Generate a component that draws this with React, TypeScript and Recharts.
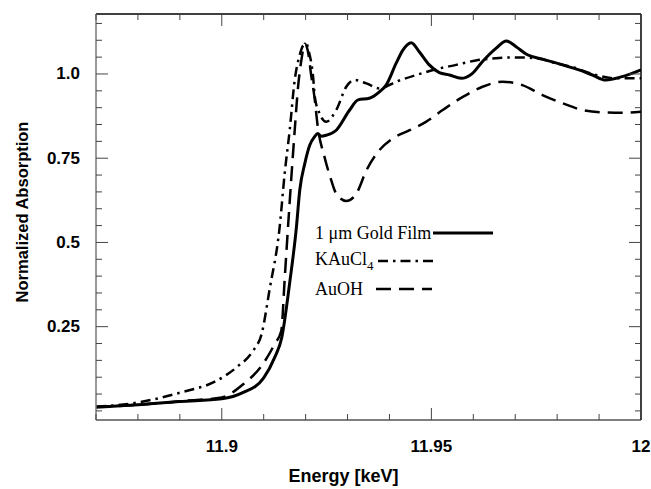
import React from 'react';
import { LineChart, Line, XAxis, YAxis } from 'recharts';

// energy (keV) / normalized absorption
const goldEnergy = [11.87, 11.88, 11.89, 11.9, 11.905, 11.91, 11.9126, 11.9143, 11.9162, 11.9178, 11.9186, 11.9198, 11.921, 11.9221, 11.9229, 11.9237, 11.9249, 11.9273, 11.9305, 11.9325, 11.9352, 11.9376, 11.9392, 11.9416, 11.9432, 11.9452, 11.9471, 11.9495, 11.9519, 11.9543, 11.9571, 11.9598, 11.9622, 11.9654, 11.9679, 11.9702, 11.9729, 11.9765, 11.9813, 11.9852, 11.9884, 11.9916, 11.9955, 12.0];
const goldAbs = [0.011, 0.018, 0.028, 0.036, 0.054, 0.098, 0.158, 0.217, 0.38, 0.545, 0.655, 0.734, 0.789, 0.813, 0.823, 0.815, 0.818, 0.833, 0.893, 0.923, 0.928, 0.947, 0.967, 1.032, 1.071, 1.093, 1.066, 1.027, 1.004, 0.997, 0.987, 1.002, 1.037, 1.076, 1.098, 1.081, 1.057, 1.044, 1.027, 1.012, 0.997, 0.982, 0.992, 1.012];

const kaucl4Energy = [11.87, 11.88, 11.89, 11.8987, 11.9035, 11.9075, 11.9095, 11.9114, 11.9138, 11.915, 11.9162, 11.9174, 11.9186, 11.9195, 11.9202, 11.9207, 11.9218, 11.9222, 11.9233, 11.9249, 11.9273, 11.9297, 11.9317, 11.9345, 11.9376, 11.9416, 11.9464, 11.9511, 11.9559, 11.9606, 11.9654, 11.9702, 11.9749, 11.9797, 11.9845, 11.9892, 11.994, 12.0];
const kaucl4Abs = [0.012, 0.025, 0.054, 0.089, 0.129, 0.179, 0.228, 0.36, 0.545, 0.704, 0.833, 0.982, 1.057, 1.086, 1.09, 1.07, 0.99, 0.932, 0.883, 0.858, 0.893, 0.962, 0.982, 0.972, 0.957, 0.977, 0.997, 1.014, 1.027, 1.04, 1.047, 1.049, 1.047, 1.032, 1.017, 0.997, 0.987, 0.987];

const auohEnergy = [11.87, 11.88, 11.89, 11.9, 11.9051, 11.9098, 11.9126, 11.9142, 11.915, 11.9158, 11.9166, 11.9174, 11.9182, 11.919, 11.9198, 11.9205, 11.9214, 11.9221, 11.9229, 11.9245, 11.9261, 11.9273, 11.9297, 11.9321, 11.9345, 11.9376, 11.9408, 11.9448, 11.9487, 11.9527, 11.9575, 11.9622, 11.967, 11.9717, 11.9765, 11.9813, 11.986, 11.9908, 11.9955, 12.0];
const auohAbs = [0.012, 0.018, 0.029, 0.04, 0.079, 0.139, 0.198, 0.238, 0.39, 0.545, 0.694, 0.833, 0.962, 1.042, 1.09, 1.07, 0.99, 0.932, 0.843, 0.754, 0.685, 0.645, 0.623, 0.645, 0.714, 0.774, 0.809, 0.833, 0.858, 0.893, 0.932, 0.962, 0.977, 0.967, 0.9375, 0.913, 0.893, 0.886, 0.885, 0.888];

const xTicks = [11.87, 11.88, 11.89, 11.9, 11.91, 11.92, 11.93, 11.94, 11.95, 11.96, 11.97, 11.98, 11.99, 12.0];
const xMajor = [11.9, 11.95, 12.0];
const xLabels = ['11.9', '11.95', '12'];
const yTicks = [0, 0.05, 0.1, 0.15, 0.2, 0.25, 0.3, 0.35, 0.4, 0.45, 0.5, 0.55, 0.6, 0.65, 0.7, 0.75, 0.8, 0.85, 0.9, 0.95, 1.0, 1.05, 1.1, 1.15];
const yMajor = [0.25, 0.5, 0.75, 1.0];
const yLabels = ['0.25', '0.5', '0.75', '1.0'];

const toPoints = (xs: number[], ys: number[]) => xs.map((x, i) => ({ x, y: ys[i] }));

const series = [
  { name: 'gold', data: toPoints(goldEnergy, goldAbs), width: 3, dash: undefined as string | undefined },
  { name: 'kaucl4', data: toPoints(kaucl4Energy, kaucl4Abs), width: 2.5, dash: '10 5 2.5 5' },
  { name: 'auoh', data: toPoints(auohEnergy, auohAbs), width: 2.5, dash: '15 8' },
];

const sans = '"Liberation Sans", Arial, sans-serif';
const tickFont = { fontFamily: sans, fontWeight: 700, fontSize: 17 };
const serif = '"Liberation Serif", "Times New Roman", serif';

const findMajor = (v: number, majors: number[]) => majors.findIndex(m => Math.abs(m - v) < 1e-6);

const BottomTick = (props: any) => {
  const { x, y, payload } = props;
  const idx = findMajor(payload.value, xMajor);
  return (
    <g>
      <line x1={x} x2={x} y1={y} y2={y - (idx >= 0 ? 12 : 6)} stroke="#444" strokeWidth={1} />
      {idx >= 0 && (
        <text x={x} y={y + 26} textAnchor="middle" dominantBaseline="central" fill="#000" {...tickFont}>
          {xLabels[idx]}
        </text>
      )}
    </g>
  );
};

const TopTick = (props: any) => {
  const { x, y, payload } = props;
  const major = findMajor(payload.value, xMajor) >= 0;
  return <line x1={x} x2={x} y1={y} y2={y + (major ? 12 : 6)} stroke="#444" strokeWidth={1} />;
};

const LeftTick = (props: any) => {
  const { x, y, payload } = props;
  const idx = findMajor(payload.value, yMajor);
  return (
    <g>
      <line x1={x} x2={x + (idx >= 0 ? 12 : 6)} y1={y} y2={y} stroke="#444" strokeWidth={1} />
      {idx >= 0 && (
        <text x={x - 16} y={y} textAnchor="end" dominantBaseline="central" fill="#000" {...tickFont}>
          {yLabels[idx]}
        </text>
      )}
    </g>
  );
};

const RightTick = (props: any) => {
  const { x, y, payload } = props;
  const major = findMajor(payload.value, yMajor) >= 0;
  return <line x1={x} x2={x - (major ? 12 : 6)} y1={y} y2={y} stroke="#444" strokeWidth={1} />;
};

const legendRows = [
  { label: <>1 μm Gold Film</>, dash: undefined as string | undefined, width: 3, gap: 2, len: 60 },
  { label: <>KAuCl<sub style={{ fontSize: 13 }}>4</sub></>, dash: '10 5 2.5 5', width: 2.5, gap: 4, len: 58 },
  { label: <>AuOH</>, dash: '15 8', width: 2.5, gap: 13, len: 56 },
];

export default function App() {
  return (
    <div style={{ position: 'absolute', left: 0, top: 0, width: 651, height: 489, background: '#fff' }}>
      <LineChart width={651} height={489} margin={{ top: 13, right: 9, bottom: 0, left: 0 }}>
        <XAxis
          xAxisId="bottom"
          dataKey="x"
          type="number"
          domain={[11.87, 12.0]}
          allowDataOverflow
          ticks={xTicks}
          interval={0}
          height={69}
          tickSize={0}
          tickMargin={0}
          tick={<BottomTick />}
          tickLine={false}
          axisLine={{ stroke: '#555', strokeWidth: 1.5 }}
          label={({ viewBox }: any) => (
            <text x={viewBox.x + viewBox.width / 2 - 25} y={viewBox.y + 56} textAnchor="middle" dominantBaseline="central" fill="#000" fontFamily={sans} fontWeight={700} fontSize={18}>
              Energy [keV]
            </text>
          )}
        />
        <XAxis
          xAxisId="top"
          orientation="top"
          dataKey="x"
          type="number"
          domain={[11.87, 12.0]}
          allowDataOverflow
          ticks={xTicks}
          interval={0}
          height={1}
          tickSize={0}
          tickMargin={0}
          tick={<TopTick />}
          tickLine={false}
          axisLine={{ stroke: '#000', strokeWidth: 1.5 }}
        />
        <YAxis
          yAxisId="left"
          type="number"
          domain={[-0.027, 1.178]}
          allowDataOverflow
          ticks={yTicks}
          interval={0}
          width={96}
          tickSize={0}
          tickMargin={0}
          tick={<LeftTick />}
          tickLine={false}
          axisLine={{ stroke: '#777', strokeWidth: 1.5 }}
          label={({ viewBox }: any) => (
            <text
              x={22}
              y={viewBox.y + viewBox.height / 2 - 5}
              textAnchor="middle"
              dominantBaseline="central"
              transform={`rotate(-90, 22, ${viewBox.y + viewBox.height / 2 - 5})`}
              fill="#000"
              fontFamily={sans}
              fontWeight={700}
              fontSize={16.5}
            >
              Normalized Absorption
            </text>
          )}
        />
        <YAxis
          yAxisId="right"
          orientation="right"
          type="number"
          domain={[-0.027, 1.178]}
          allowDataOverflow
          ticks={yTicks}
          interval={0}
          width={1}
          tickSize={0}
          tickMargin={0}
          tick={<RightTick />}
          tickLine={false}
          axisLine={{ stroke: '#000', strokeWidth: 1.5 }}
        />
        {series.map(s => (
          <Line
            key={s.name}
            xAxisId="bottom"
            yAxisId="left"
            data={s.data}
            dataKey="y"
            type="monotone"
            stroke="#000"
            strokeWidth={s.width}
            strokeDasharray={s.dash}
            dot={false}
            activeDot={false}
            isAnimationActive={false}
          />
        ))}
      </LineChart>

      {/* legend */}
      <div style={{ position: 'absolute', left: 315, top: 219, fontFamily: serif, fontSize: 18, color: '#000' }}>
        {legendRows.map((r, i) => (
          <div key={i} style={{ display: 'flex', alignItems: 'center', height: 28, whiteSpace: 'nowrap' }}>
            <span>{r.label}</span>
            <svg width={r.len} height={6} style={{ marginLeft: r.gap }}>
              <line x1={0} x2={r.len} y1={3} y2={3} stroke="#000" strokeWidth={r.width} strokeDasharray={r.dash} />
            </svg>
          </div>
        ))}
      </div>
    </div>
  );
}
